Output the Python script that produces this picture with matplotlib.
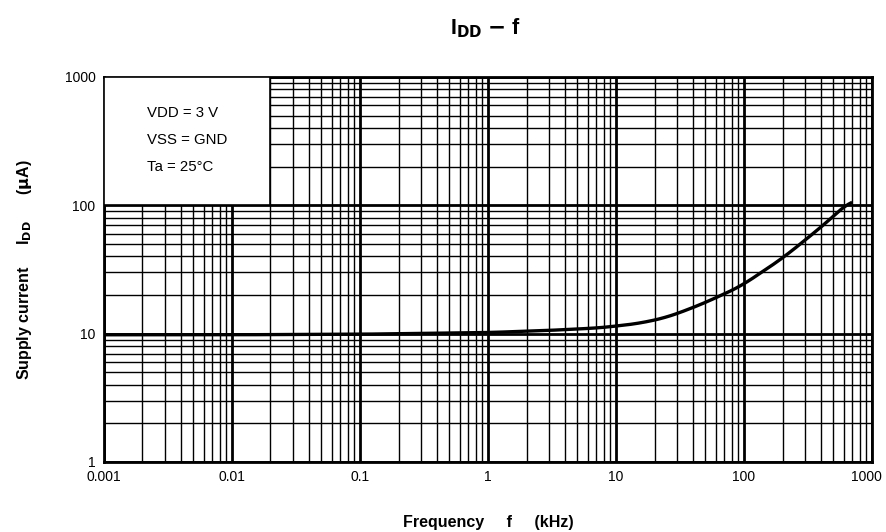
import numpy as np
import matplotlib.pyplot as plt
import matplotlib.transforms as mtransforms
from matplotlib.patches import Rectangle
from matplotlib.ticker import LogLocator, NullFormatter, FixedLocator, FixedFormatter

plt.rcParams['font.family'] = ['Liberation Sans', 'DejaVu Sans']
plt.rcParams['mathtext.default'] = 'bf'

# datos (f en kHz, IDD en uA)
frecuencia = [0.001, 0.01, 0.1, 1, 3, 7.5, 15, 25, 45, 93, 200, 350, 500, 700]
corriente = [9.8, 9.8, 9.9, 10.2, 10.6, 11.1, 12.0, 13.4, 16.7, 23.2, 38.7, 60.6, 82, 112]

x_ticks = [0.001, 0.01, 0.1, 1, 10, 100, 1000]
x_labels = ['0.001', '0.01', '0.1', '1', '10', '100', '1000']
y_ticks = [1, 10, 100, 1000]
y_labels = ['1', '10', '100', '1000']

condiciones = ['VDD = 3 V', 'VSS = GND', 'Ta = 25°C']

fig = plt.figure(figsize=(8.87, 5.32), dpi=100)
ax = fig.add_axes([0.1172, 0.1316, 0.8659, 0.7237])

# curva suavizada en escala log
lx = np.log10(frecuencia)
ly = np.log10(corriente)
xs = np.linspace(lx[0], lx[-1], 400)
ys = np.interp(xs, lx, ly)
kernel = np.ones(15) / 15
ys_s = np.convolve(np.pad(ys, 7, mode='edge'), kernel, mode='valid')
ax.plot(10**xs, 10**ys_s, color='black', lw=2.4, zorder=5, solid_capstyle='butt')

ax.set_xscale('log')
ax.set_yscale('log')
ax.set_xlim(0.001, 1000)
ax.set_ylim(1, 1000)

ax.xaxis.set_major_locator(FixedLocator(x_ticks))
ax.xaxis.set_major_formatter(FixedFormatter(x_labels))
ax.yaxis.set_major_locator(FixedLocator(y_ticks))
ax.yaxis.set_major_formatter(FixedFormatter(y_labels))
ax.xaxis.set_minor_locator(LogLocator(base=10, subs=np.arange(2, 10), numticks=20))
ax.yaxis.set_minor_locator(LogLocator(base=10, subs=np.arange(2, 10), numticks=20))
ax.xaxis.set_minor_formatter(NullFormatter())
ax.yaxis.set_minor_formatter(NullFormatter())

ax.grid(which='major', color='black', lw=2.0)
ax.grid(which='minor', color='black', lw=1.0)
ax.set_axisbelow(True)
ax.tick_params(which='both', length=0, labelsize=10, pad=6)

for s in ax.spines.values():
    s.set_linewidth(2)

# recuadro de condiciones
ax.add_patch(Rectangle((0.001, 100), 0.02 - 0.001, 900, facecolor='white',
                       edgecolor='black', lw=1.2, zorder=3))
for i, t in enumerate(condiciones):
    ax.text(0.00216, 525 / (1.62 ** i), t, fontsize=10.8, va='center', ha='left', zorder=4)

ax.set_xlabel('Frequency     f     (kHz)', fontsize=11.5, fontweight='bold', labelpad=22)
ax.set_ylabel(r'Supply current     I$_\mathbf{DD}$      ($\mathbf{\mu}$A)', fontsize=11.5,
              fontweight='bold', labelpad=22)
fig.text(0.547, 0.947, r'I$_\mathbf{DD}$ $-$ f', fontsize=15.5, fontweight='bold',
         ha='center', va='center')

fig.canvas.draw()
ult = ax.get_xticklabels()[-1]
ult.set_transform(ult.get_transform() + mtransforms.ScaledTranslation(-6 / 100, 0, fig.dpi_scale_trans))

fig.savefig('out.png', dpi=100)
